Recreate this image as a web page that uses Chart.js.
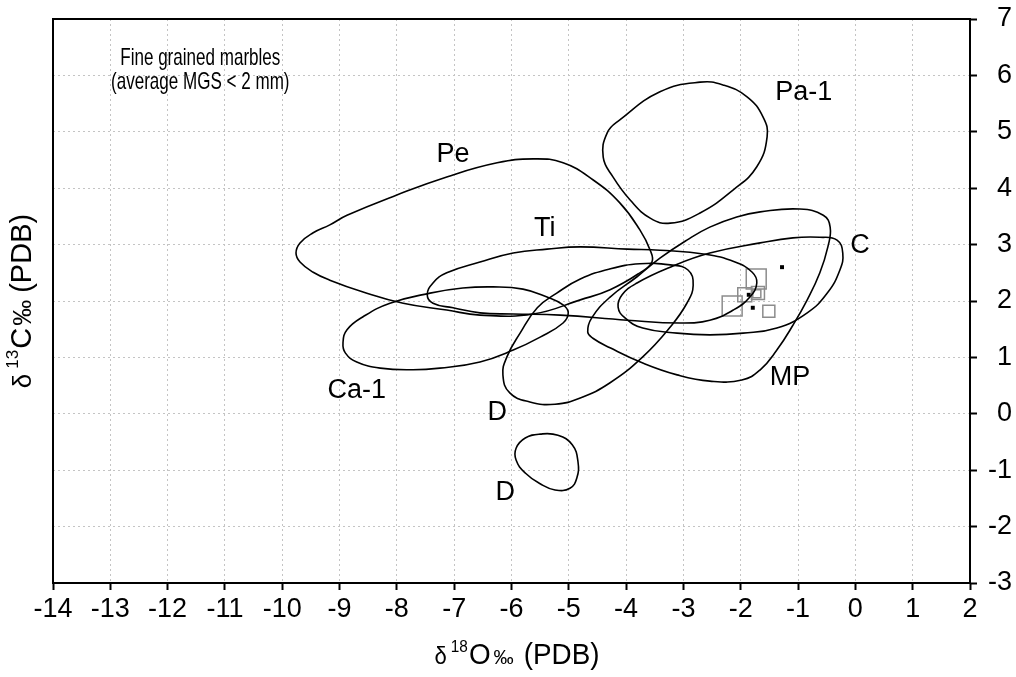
<!DOCTYPE html>
<html>
<head>
<meta charset="utf-8">
<script src="https://cdn.jsdelivr.net/npm/chart.js@4.4.1/dist/chart.umd.min.js"></script>
<style>
html,body{margin:0;padding:0;background:#fff;}
#wrap{width:1016px;height:677px;}
</style>
</head>
<body>
<div id="wrap"><canvas id="c" width="1016" height="677"></canvas></div>
<script>
// ---- tick values ----
const xTickValues = [-14,-13,-12,-11,-10,-9,-8,-7,-6,-5,-4,-3,-2,-1,0,1,2];
const yTickValues = [-3,-2,-1,0,1,2,3,4,5,6,7];

// ---- field outlines (delta18O, delta13C) ----
const pa1X = [-2.71,-3.41,-4.11,-4.33,-4.40,-4.23,-3.93,-3.58,-3.23,-2.71,-2.13,-1.72,-1.54,-1.61,-1.89,-2.31];
const pa1Y = [5.88,5.71,5.21,4.98,4.55,4.20,3.79,3.47,3.38,3.56,3.97,4.38,4.91,5.26,5.62,5.83];

const peX = [-9.76,-9.69,-9.46,-9.17,-8.87,-8.00,-7.13,-6.25,-5.62,-5.10,-4.58,-4.11,-3.76,-3.58,-3.55,-3.76,-4.28,-4.80,-5.62,-6.55,-7.13,-7.89,-8.59,-9.17,-9.46,-9.69];
const peY = [2.85,3.03,3.21,3.35,3.52,3.88,4.20,4.45,4.52,4.45,4.15,3.74,3.26,2.90,2.69,2.50,2.20,2.02,1.77,1.75,1.84,1.96,2.16,2.37,2.51,2.69];

const tiX = [-7.47,-7.37,-7.13,-6.55,-5.97,-5.38,-4.80,-3.98,-3.41,-2.62,-2.10,-1.80,-1.72,-1.84,-2.13,-2.54,-3.06,-3.98,-5.15,-5.97,-6.55,-7.02,-7.37];
const tiY = [2.11,2.32,2.50,2.69,2.85,2.92,2.96,2.92,2.90,2.83,2.69,2.51,2.32,2.07,1.84,1.66,1.61,1.66,1.75,1.77,1.79,1.88,1.96];

const ca1X = [-8.94,-8.87,-8.59,-8.12,-7.42,-6.85,-6.32,-5.80,-5.38,-5.10,-5.01,-5.10,-5.50,-5.97,-6.55,-7.25,-7.72,-8.29,-8.70,-8.90];
const ca1Y = [1.26,1.49,1.72,1.96,2.14,2.23,2.25,2.21,2.07,1.93,1.79,1.61,1.36,1.13,0.92,0.81,0.78,0.81,0.92,1.08];

const d1X = [-5.21,-4.80,-4.28,-3.76,-3.23,-2.92,-2.83,-2.94,-3.23,-3.71,-4.28,-4.80,-5.24,-5.68,-6.03,-6.15,-6.08,-5.85,-5.55];
const d1Y = [2.14,2.39,2.57,2.66,2.64,2.55,2.28,1.96,1.54,1.01,0.55,0.28,0.17,0.21,0.37,0.69,1.01,1.43,1.88];

const d2X = [-5.50,-5.76,-5.92,-5.92,-5.76,-5.50,-5.24,-4.98,-4.86,-4.84,-4.94,-5.19];
const d2Y = [-0.36,-0.43,-0.61,-0.82,-1.05,-1.24,-1.35,-1.32,-1.14,-0.85,-0.55,-0.38];

const mpX = [-4.67,-4.60,-4.28,-3.81,-3.41,-2.94,-2.54,-2.07,-1.66,-0.97,-0.56,-0.44,-0.48,-0.62,-0.84,-1.09,-1.37,-1.66,-1.98,-2.54,-3.11,-3.71,-4.28,-4.58];
const mpY = [1.45,1.70,2.07,2.43,2.76,3.08,3.31,3.49,3.58,3.63,3.52,3.31,2.96,2.50,2.02,1.57,1.13,0.78,0.60,0.58,0.69,0.90,1.17,1.34];

const cX = [-4.14,-4.07,-3.81,-3.23,-2.54,-1.66,-1.09,-0.62,-0.32,-0.22,-0.27,-0.49,-0.84,-1.37,-1.96,-2.54,-3.11,-3.71,-4.02];
const cY = [1.89,2.11,2.32,2.60,2.85,3.03,3.12,3.13,3.08,2.85,2.55,2.14,1.79,1.52,1.43,1.40,1.43,1.52,1.70];

// ---- samples ----
const squareX = [-1.73,-1.93,-1.70,-2.15,-1.51,-1.72];
const squareY = [2.39,2.11,2.14,1.91,1.82,2.13];
const dotX = [-1.28,-1.79,-1.86];
const dotY = [2.60,1.88,2.11];

// ---- field labels ----
const fieldLabels = ['Pa-1','Pe','Ti','C','Ca-1','D','D','MP'];
const fieldLabelX = [-0.90,-7.02,-5.42,0.08,-8.70,-6.25,-6.11,-1.14];
const fieldLabelY = [5.69,4.59,3.29,2.99,0.42,0.03,-1.39,0.64];
const noteLines = ['Fine grained marbles','(average MGS < 2 mm)'];
const noteX = -11.43;
const noteY = [6.31,5.88];

function closedLoop(xs, ys){
  const n = xs.length;
  const pts = [{x:xs[n-1], y:ys[n-1]}];
  for (let i=0;i<n;i++) pts.push({x:xs[i], y:ys[i]});
  pts.push({x:xs[0], y:ys[0]});
  pts.push({x:xs[1], y:ys[1]});
  return pts;
}
function outline(xs, ys){
  const n = xs.length;
  return {
    type:'scatter',
    data: closedLoop(xs, ys),
    showLine:true,
    pointRadius:0,
    pointHoverRadius:0,
    borderColor:'#000',
    borderWidth:1.6,
    backgroundColor:'rgba(0,0,0,0)',
    fill:false,
    tension:0.45,
    segment:{
      borderColor: ctx => (ctx.p0DataIndex === 0 || ctx.p0DataIndex === n+1) ? 'rgba(0,0,0,0)' : '#000'
    }
  };
}

const SANS = '"Liberation Sans", Arial, sans-serif';

// draws text horizontally condensed, like the narrow face of the original
function narrowText(ctx, t, x, y, sx){
  ctx.save();
  ctx.translate(x, y);
  ctx.scale(sx, 1);
  ctx.fillText(t, 0, 0);
  ctx.restore();
}

const decor = {
  id:'decor',
  afterDatasetsDraw(chart){
    const {ctx, chartArea:a, scales:{x, y}} = chart;
    ctx.save();
    // frame top & left
    ctx.strokeStyle = '#000';
    ctx.lineWidth = 2;
    ctx.beginPath();
    ctx.moveTo(a.left, a.bottom);
    ctx.lineTo(a.left, a.top);
    ctx.lineTo(a.right, a.top);
    ctx.stroke();
    // field labels
    ctx.fillStyle = '#000';
    ctx.textAlign = 'center';
    ctx.textBaseline = 'middle';
    ctx.font = '27px ' + SANS;
    fieldLabels.forEach((t,i) => {
      ctx.fillText(t, x.getPixelForValue(fieldLabelX[i]), y.getPixelForValue(fieldLabelY[i]));
    });
    // note
    ctx.font = '24px ' + SANS;
    noteLines.forEach((t,i) => {
      narrowText(ctx, t, x.getPixelForValue(noteX), y.getPixelForValue(noteY[i]), 0.71);
    });
    // x title: δ 18O ‰ (PDB)
    const sx = 0.96;
    const xParts = [
      {t:'\u03B4', f:'23px ' + SANS, dy:0, gap:4},
      {t:'18', f:'16px ' + SANS, dy:-12, gap:1},
      {t:'O', f:'29px ' + SANS, dy:0, gap:3},
      {t:'\u2030', f:'21px ' + SANS, dy:0, gap:10},
      {t:'(PDB)', f:'29px ' + SANS, dy:0, gap:0}
    ];
    const base = 664;
    let total = 0;
    xParts.forEach(p => { ctx.font = p.f; p.w = ctx.measureText(p.t).width * sx; total += p.w + p.gap; });
    let cx = 517 - total/2;
    ctx.textAlign = 'left';
    ctx.textBaseline = 'alphabetic';
    xParts.forEach(p => { ctx.font = p.f; narrowText(ctx, p.t, cx, base + p.dy, sx); cx += p.w + p.gap; });
    // y title: δ 13C ‰ (PDB)
    ctx.save();
    ctx.translate(31, 301);
    ctx.rotate(-Math.PI/2);
    const yParts = [
      {t:'\u03B4', f:'26px ' + SANS, dy:0, gap:5},
      {t:'13', f:'17px ' + SANS, dy:-13, gap:1},
      {t:'C', f:'29px ' + SANS, dy:0, gap:2},
      {t:'\u2030', f:'26px ' + SANS, dy:0, gap:7},
      {t:'(PDB)', f:'29px ' + SANS, dy:0, gap:0}
    ];
    total = 0;
    yParts.forEach(p => { ctx.font = p.f; p.w = ctx.measureText(p.t).width; total += p.w + p.gap; });
    cx = -total/2;
    yParts.forEach(p => { ctx.font = p.f; ctx.fillText(p.t, cx, p.dy); cx += p.w + p.gap; });
    ctx.restore();
    ctx.restore();
  }
};

const datasets = [
  outline(pa1X, pa1Y),
  outline(peX, peY),
  outline(tiX, tiY),
  outline(ca1X, ca1Y),
  outline(d1X, d1Y),
  outline(d2X, d2Y),
  outline(mpX, mpY),
  outline(cX, cY),
  {
    type:'scatter',
    data: squareX.map((v,i) => ({x:v, y:squareY[i]})),
    pointStyle:'rect',
    pointRadius:[14.1, 9.9, 9.2, 14.1, 8.5, 5.7],
    borderColor:'#8c8c8c',
    borderWidth:1.5,
    backgroundColor:'rgba(0,0,0,0)',
    showLine:false
  },
  {
    type:'scatter',
    data: dotX.map((v,i) => ({x:v, y:dotY[i]})),
    pointStyle:'rect',
    pointRadius:2.8,
    borderWidth:0,
    backgroundColor:'#000',
    showLine:false
  }
];

new Chart(document.getElementById('c'), {
  type:'scatter',
  data:{ datasets },
  options:{
    responsive:false,
    devicePixelRatio:1,
    animation:false,
    events:[],
    layout:{ padding:{ left:53, top:19, right:4, bottom:0 } },
    plugins:{ legend:{display:false}, tooltip:{enabled:false} },
    scales:{
      x:{
        type:'linear', position:'bottom', min:-14, max:2,
        afterBuildTicks: s => { s.ticks = xTickValues.map(v => ({value:v})); },
        afterFit: s => { s.height = 94; s.paddingLeft = 0; s.paddingRight = 0; },
        ticks:{ color:'#000', font:{ family:SANS, size:27 }, autoSkip:false, maxRotation:0, padding:3 },
        grid:{ color:'#c4c4c4', lineWidth:1, drawTicks:true, tickLength:7, tickColor:'#000', tickWidth:2, tickBorderDash:[] },
        border:{ display:true, color:'#000', width:2, dash:[2,3] }
      },
      y:{
        type:'linear', position:'right', min:-3, max:7,
        afterBuildTicks: s => { s.ticks = yTickValues.map(v => ({value:v})); },
        afterFit: s => { s.width = 42; s.paddingTop = 0; s.paddingBottom = 0; },
        ticks:{ color:'#000', font:{ family:SANS, size:27 }, crossAlign:'far', padding:2 },
        grid:{ color:'#c4c4c4', lineWidth:1, drawTicks:true, tickLength:7, tickColor:'#000', tickWidth:2, tickBorderDash:[] },
        border:{ display:true, color:'#000', width:2, dash:[2,3] }
      }
    }
  },
  plugins:[decor]
});
</script>
</body>
</html>
